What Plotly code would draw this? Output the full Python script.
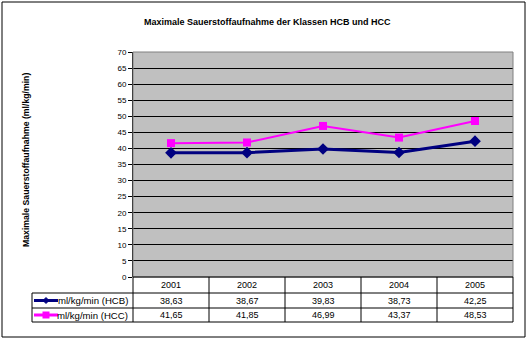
import plotly.graph_objects as go

years = ["2001", "2002", "2003", "2004", "2005"]
hcb = [38.63, 38.67, 39.83, 38.73, 42.25]
hcc = [41.65, 41.85, 46.99, 43.37, 48.53]
series_names = ["ml/kg/min (HCB)", "ml/kg/min (HCC)"]
title = "Maximale Sauerstoffaufnahme der Klassen HCB und HCC"
ytitle = "Maximale Sauerstoffaufnahme (ml/kg/min)"

W, H = 530, 339
L, R, T, B = 133, 513, 52, 277
FONT = "Liberation Sans, Arial, sans-serif"
NAVY = "#000080"
MAG = "#FF00FF"


def px(x):
    return (x - L) / (R - L)


def py(y):
    return (B - y) / (B - T)


fig = go.Figure()
fig.add_trace(go.Scatter(x=years, y=hcb, mode="lines+markers", name=series_names[0],
                         line=dict(color=NAVY, width=3),
                         marker=dict(symbol="diamond", size=9, color=NAVY)))
fig.add_trace(go.Scatter(x=years, y=hcc, mode="lines+markers", name=series_names[1],
                         line=dict(color=MAG, width=2),
                         marker=dict(symbol="square", size=8, color=MAG)))

shapes = []
ann = []

# outer frame
shapes.append(dict(type="rect", xref="paper", yref="paper", x0=px(2), x1=px(525), y0=py(2), y1=py(337),
                   line=dict(color="black", width=1), fillcolor="rgba(0,0,0,0)", layer="below"))
# plot area border (grey top/right)
shapes.append(dict(type="rect", xref="paper", yref="paper", x0=0, x1=1, y0=0, y1=1,
                   line=dict(color="#808080", width=1), fillcolor="rgba(0,0,0,0)"))

# table
ncol = len(years)
colw = (R - L) / ncol
row_y = [277, 293, 308, 322]
leg_x0 = 32


def hline(x0, x1, y):
    shapes.append(dict(type="line", xref="paper", yref="paper", x0=px(x0), x1=px(x1), y0=py(y), y1=py(y),
                       line=dict(color="black", width=1)))


def vline(x, y0, y1):
    shapes.append(dict(type="line", xref="paper", yref="paper", x0=px(x), x1=px(x), y0=py(y0), y1=py(y1),
                       line=dict(color="black", width=1)))


hline(L, R, row_y[0])
for yy in row_y[1:]:
    hline(leg_x0, R, yy)
for i in range(ncol + 1):
    vline(L + i * colw, row_y[0], row_y[3])
vline(leg_x0, row_y[1], row_y[3])

for i, yr in enumerate(years):
    cx = L + (i + 0.5) * colw
    ann.append(dict(x=px(cx), y=py((row_y[0] + row_y[1]) / 2), text=yr, size=9))
    for r, vals in enumerate([hcb, hcc]):
        ann.append(dict(x=px(cx), y=py((row_y[r + 1] + row_y[r + 2]) / 2),
                        text=f"{vals[i]:.2f}".replace(".", ","), size=9))

# legend keys
colors = [NAVY, MAG]
widths = [3, 3]
for r in range(2):
    yc = (row_y[r + 1] + row_y[r + 2]) / 2
    shapes.append(dict(type="line", xref="paper", yref="paper", x0=px(34), x1=px(58), y0=py(yc), y1=py(yc),
                       line=dict(color=colors[r], width=widths[r])))
    ann.append(dict(x=px(130), y=py(yc), text=series_names[r], xanchor="right", size=9.6))

# markers in legend
mx = 46
yc0 = (row_y[1] + row_y[2]) / 2
d = 3
shapes.append(dict(type="path", xref="paper", yref="paper",
                   path=f"M {px(mx - d)},{py(yc0)} L {px(mx)},{py(yc0 - d)} L {px(mx + d)},{py(yc0)} L {px(mx)},{py(yc0 + d)} Z",
                   fillcolor=NAVY, line=dict(color=NAVY, width=1)))
yc1 = (row_y[2] + row_y[3]) / 2
s = 3.5
shapes.append(dict(type="rect", xref="paper", yref="paper", x0=px(mx - s), x1=px(mx + s),
                   y0=py(yc1 + s), y1=py(yc1 - s), fillcolor=MAG, line=dict(color=MAG, width=0)))

for a in ann:
    a.setdefault("xanchor", "center")
    size = a.pop("size", 8)
    a.update(xref="paper", yref="paper", yanchor="middle", showarrow=False,
             font=dict(family=FONT, size=size, color="black"))

# title and y title
ann.append(dict(xref="paper", yref="paper", x=px(267), y=py(22), text="<b>" + title + "</b>",
                showarrow=False, xanchor="center", yanchor="middle",
                font=dict(family=FONT, size=9, color="black")))
ann.append(dict(xref="paper", yref="paper", x=px(26), y=py(160), text="<b>" + ytitle + "</b>",
                showarrow=False, xanchor="center", yanchor="middle", textangle=-90,
                font=dict(family=FONT, size=8.7, color="black")))

fig.update_layout(
    width=W, height=H,
    margin=dict(l=L, r=W - R, t=T, b=H - B, pad=0),
    paper_bgcolor="white", plot_bgcolor="#C0C0C0",
    showlegend=False,
    shapes=shapes, annotations=ann,
    font=dict(family=FONT, size=8, color="black"),
)
fig.update_xaxes(type="category", range=[-0.5, 4.5], showticklabels=False, showgrid=False,
                 zeroline=False, showline=False, ticks="")
fig.update_yaxes(range=[0, 70], dtick=5, showgrid=True, gridcolor="black", gridwidth=1,
                 zeroline=False, showline=True, linecolor="black", linewidth=1,
                 ticks="outside", ticklen=4, tickcolor="black",
                 tickfont=dict(family=FONT, size=8, color="black"))

fig.write_html("out.html")
